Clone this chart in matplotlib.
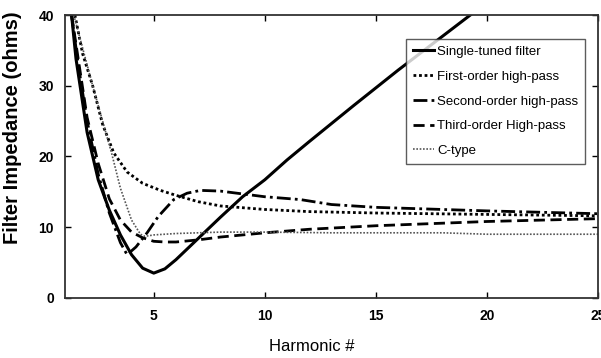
import matplotlib
matplotlib.use("Agg")
import matplotlib.pyplot as plt

# Single-tuned filter
h_st = [1.3, 1.5, 2.0, 2.5, 3.0, 3.5, 4.0, 4.5, 5.0, 5.5, 6.0, 6.5, 7.0, 8.0, 9.0, 10.0, 11.0, 12.0, 14.0, 16.0, 18.0, 19.5]
z_st = [40.0, 33.8, 23.4, 16.7, 12.4, 8.9, 6.1, 4.2, 3.5, 4.1, 5.4, 6.9, 8.4, 11.4, 14.3, 16.7, 19.5, 22.1, 27.2, 32.2, 37.0, 40.6]

# First-order high-pass
h_fo = [1.45, 1.8, 2.25, 2.7, 3.2, 3.8, 4.5, 5.3, 6.0, 7.0, 8.0, 10.0, 12.0, 15.0, 20.0, 25.0]
z_fo = [40.0, 34.5, 30.0, 24.5, 20.5, 17.8, 16.2, 15.2, 14.5, 13.6, 13.0, 12.5, 12.2, 12.0, 11.8, 11.6]

# Second-order high-pass
h_so = [1.3, 1.6, 2.0, 2.5, 3.0, 3.5, 3.8, 4.2, 4.7, 5.2, 5.9, 6.5, 7.1, 8.0, 9.0, 10.0, 11.6, 13.0, 15.0, 20.0, 25.0]
z_so = [40.0, 33.0, 25.0, 17.5, 12.0, 7.8, 6.1, 7.2, 9.2, 11.5, 13.9, 14.8, 15.2, 15.1, 14.7, 14.3, 13.9, 13.2, 12.8, 12.3, 11.9]

# Third-order high-pass
h_to = [1.3, 2.0, 2.5, 3.0, 3.5, 4.0, 4.5, 5.0, 5.5, 6.0, 7.0, 8.0, 10.0, 12.0, 15.0, 20.0, 25.0]
z_to = [40.0, 25.5, 19.0, 14.0, 11.0, 9.3, 8.5, 8.0, 7.9, 7.9, 8.2, 8.6, 9.2, 9.7, 10.2, 10.8, 11.2]

# C-type
h_ct = [1.4, 2.25, 3.1, 3.5, 4.0, 4.4, 4.6, 5.0, 6.0, 8.0, 10.0, 13.0, 18.0, 20.0, 25.0]
z_ct = [40.0, 30.0, 20.5, 15.5, 11.0, 9.0, 8.7, 8.9, 9.1, 9.3, 9.3, 9.2, 9.2, 9.0, 9.0]

labels = ["Single-tuned filter", "First-order high-pass", "Second-order high-pass",
          "Third-order High-pass", "C-type"]
xticks = [5, 10, 15, 20, 25]
yticks = [0, 10, 20, 30, 40]

sans = ["Liberation Sans", "DejaVu Sans"]

fig = plt.figure(figsize=(6.01, 3.58), dpi=100)
ax = fig.add_axes([0.108, 0.168, 0.887, 0.790])

ax.plot(h_st, z_st, color="black", lw=2.2, ls="-", label=labels[0])
ax.plot(h_fo, z_fo, color="black", lw=2.0, ls=(0, (1, 1)), label=labels[1])
ax.plot(h_so, z_so, color="black", lw=2.0, ls=(0, (5, 1.5, 1, 1.5)), label=labels[2])
ax.plot(h_to, z_to, color="black", lw=2.0, ls=(0, (4, 2)), label=labels[3])
ax.plot(h_ct, z_ct, color="#555555", lw=1.2, ls=(0, (1, 1)), label=labels[4])

ax.set_xlim(1, 25)
ax.set_ylim(0, 40)
ax.set_xticks(xticks)
ax.set_yticks(yticks)
ax.tick_params(direction="in", top=True, right=True, length=4, width=1, pad=8)
for lab in ax.get_xticklabels() + ax.get_yticklabels():
    lab.set_family(sans)
    lab.set_fontweight("bold")
    lab.set_fontsize(10)
for sp in ax.spines.values():
    sp.set_linewidth(1.3)
    sp.set_color("#333333")

ax.set_xlabel("Harmonic #", family=sans, fontsize=12)
ax.xaxis.set_label_coords(0.463, -0.145)
ax.set_ylabel("Filter Impedance (ohms)", family=sans, fontsize=14.5, fontweight="bold")
ax.yaxis.set_label_coords(-0.08, 0.60)

leg = ax.legend(loc="upper right", bbox_to_anchor=(0.988, 0.938), handlelength=1.6,
                handletextpad=0.25, borderpad=0.5, labelspacing=0.95, fancybox=False,
                prop={"family": sans, "size": 9.5})
leg.get_frame().set_edgecolor("#333333")
leg.get_frame().set_linewidth(1.0)

fig.savefig("out.png", dpi=100)
